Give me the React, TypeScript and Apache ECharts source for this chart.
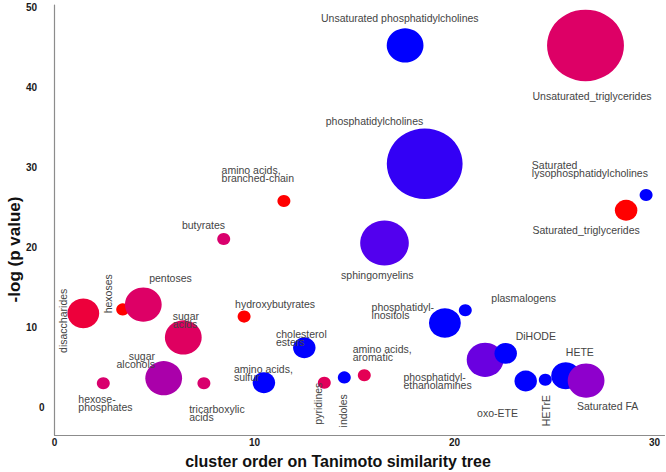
import React, { useEffect, useRef } from 'react';
import * as echarts from 'echarts';

// ---- data ----
const names = [
  'disaccharides', 'hexose-phosphates', 'hexoses', 'pentoses', 'sugar alcohols',
  'sugar acids', 'tricarboxylic acids', 'butyrates', 'hydroxybutyrates', 'amino acids, sulfur',
  'amino acids, branched-chain', 'cholesterol esters', 'pyridines', 'indoles', 'amino acids, aromatic',
  'sphingomyelins', 'Unsaturated phosphatidylcholines', 'phosphatidylcholines', 'phosphatidylinositols', 'plasmalogens',
  'phosphatidylethanolamines', 'DiHODE', 'oxo-ETE', 'HETrE', 'HETE',
  'Saturated FA', 'Unsaturated_triglycerides', 'Saturated_triglycerides', 'Saturated lysophosphatidylcholines',
];
const displayLabels = [
  'disaccharides', 'hexose-\nphosphates', 'hexoses', 'pentoses', 'sugar\nalcohols',
  'sugar\nacids', 'tricarboxylic\nacids', 'butyrates', 'hydroxybutyrates', 'amino acids,\nsulfur',
  'amino acids,\nbranched-chain', 'cholesterol\nesters', 'pyridines', 'indoles', 'amino acids,\naromatic',
  'sphingomyelins', 'Unsaturated phosphatidylcholines', 'phosphatidylcholines', 'phosphatidyl-\ninositols', 'plasmalogens',
  'phosphatidyl-\nethanolamines', 'DiHODE', 'oxo-ETE', 'HETrE', 'HETE',
  'Saturated FA', 'Unsaturated_triglycerides', 'Saturated_triglycerides', 'Saturated\nlysophosphatidylcholines',
];
const clusterOrder = [
  1.44, 2.44, 3.41, 4.44, 5.46,
  6.44, 7.47, 8.46, 9.48, 10.47,
  11.47, 12.49, 13.49, 14.49, 15.49,
  16.5, 17.53, 18.51, 19.52, 20.54,
  21.53, 22.56, 23.56, 24.54, 25.56,
  26.58, 26.55, 28.58, 29.58,
];
const negLogP = [
  11.7, 2.96, 12.2, 12.8, 3.6,
  8.7, 2.96, 21.0, 11.3, 3.04,
  25.75, 7.4, 3.04, 3.7, 3.96,
  20.5, 45.2, 30.4, 10.5, 12.1,
  5.9, 6.7, 3.25, 3.4, 3.9,
  3.3, 45.2, 24.6, 26.5,
];
const compoundCounts = [
  6, 1, 1, 8, 8,
  8, 1, 1, 1, 3,
  1, 3, 1, 1, 1,
  14, 8, 34, 6, 1,
  8, 3, 3, 1, 5,
  8, 35, 3, 1,
];
// share of compounds increased (0 = all decreased / blue, 1 = all increased / red)
const upShare = [
  0.92, 0.78, 1, 0.8, 0.6,
  0.82, 0.78, 0.78, 1, 0,
  1, 0, 0.84, 0, 0.86,
  0.3, 0, 0.2, 0, 0,
  0.4, 0, 0, 0, 0,
  0.5, 0.8, 1, 0,
];
const yTicks = [0, 10, 20, 30, 40, 50];
const xTicks = [0, 10, 20, 30];

// ---- label layout (offsets from bubble centre, px, in screen coordinates) ----
type LL = { dx: number; dy: number; align?: 'left' | 'center' | 'right'; rotate?: number };
const labelLayout: Record<string, LL> = {
  'disaccharides': { dx: -20.6, dy: 7.4, rotate: 90 },
  'hexose-phosphates': { dx: -25, dy: 19.7, align: 'left' },
  'hexoses': { dx: -14.4, dy: -15.6, rotate: 90 },
  'pentoses': { dx: 27.2, dy: -26.3 },
  'sugar alcohols': { dx: -8.7, dy: -18.3, align: 'right' },
  'sugar acids': { dx: -10.6, dy: -17.7, align: 'left' },
  'tricarboxylic acids': { dx: -14.7, dy: 29.7, align: 'left' },
  'butyrates': { dx: -20.2, dy: -14 },
  'hydroxybutyrates': { dx: 31, dy: -12.7 },
  'amino acids, sulfur': { dx: -30, dy: -9.7, align: 'left' },
  'amino acids, branched-chain': { dx: -62.3, dy: -27, align: 'left' },
  'cholesterol esters': { dx: -28.3, dy: -10.2, align: 'left' },
  'pyridines': { dx: -6, dy: 21, rotate: 90 },
  'indoles': { dx: -1, dy: 33.4, rotate: 90 },
  'amino acids, aromatic': { dx: -11.6, dy: -22.3, align: 'left' },
  'sphingomyelins': { dx: -7.2, dy: 32 },
  'Unsaturated phosphatidylcholines': { dx: -5.3, dy: -27.4 },
  'phosphatidylcholines': { dx: -50.2, dy: -43 },
  'phosphatidylinositols': { dx: -73.3, dy: -11.7, align: 'left' },
  'plasmalogens': { dx: 58.4, dy: -12.7 },
  'phosphatidylethanolamines': { dx: -81.7, dy: 21, align: 'left' },
  'DiHODE': { dx: 30.1, dy: -17.3 },
  'oxo-ETE': { dx: -28.2, dy: 31.7 },
  'HETrE': { dx: 0.7, dy: 30.8, rotate: 90 },
  'HETE': { dx: 14.1, dy: -24 },
  'Saturated FA': { dx: 21.5, dy: 25.7 },
  'Unsaturated_triglycerides': { dx: 6.5, dy: 50.2 },
  'Saturated_triglycerides': { dx: -40, dy: 20 },
  'Saturated lysophosphatidylcholines': { dx: -114.3, dy: -26, align: 'left' },
};

const FONT = '"Liberation Sans", Arial, Helvetica, sans-serif';

export default function App() {
  const ref = useRef<HTMLDivElement>(null);
  useEffect(() => {
    if (!ref.current) return;
    const chart = echarts.init(ref.current, null, { renderer: 'svg' });

    const data = names.map((n, i) => {
      const ll = labelLayout[n] || { dx: 0, dy: 0 };
      // the label offset is applied in the rotated frame: convert screen offset for 90° labels
      const offset = ll.rotate === 90 ? [-ll.dy, ll.dx] : [ll.dx, ll.dy];
      return {
        name: n,
        value: [clusterOrder[i], negLogP[i], compoundCounts[i], upShare[i]],
        label: {
          show: true,
          formatter: displayLabels[i],
          position: 'inside',
          offset,
          align: ll.align || 'center',
          verticalAlign: 'middle',
          rotate: ll.rotate || 0,
        },
      };
    });

    const option: any = {
      animation: false,
      grid: { left: 54.5, right: 1.5, top: 5, bottom: 37, containLabel: false },
      xAxis: {
        type: 'value',
        min: 0,
        max: 30.5,
        splitLine: { show: false },
        axisTick: { show: false },
        axisLine: { show: true, onZero: false, lineStyle: { color: '#8c8c8c', width: 1.2 } },
        axisLabel: {
          customValues: xTicks,
          fontFamily: FONT,
          fontWeight: 'bold',
          fontSize: 10,
          color: '#1a1a1a',
          margin: 2,
        },
      },
      yAxis: {
        type: 'value',
        min: -3.5,
        max: 50.25,
        splitLine: { show: false },
        axisTick: { show: false },
        axisLine: { show: true, onZero: false, lineStyle: { color: '#8c8c8c', width: 1.2 } },
        axisLabel: {
          customValues: yTicks,
          margin: 10,
          formatter: (v: number) => (v === 0 ? '{z|0}' : '{n|' + v + '}'),
          rich: {
            n: { fontFamily: FONT, fontWeight: 'bold', fontSize: 10, color: '#1a1a1a', padding: [0, 7.5, 0, 0] },
            z: { fontFamily: FONT, fontWeight: 'bold', fontSize: 10, color: '#1a1a1a' },
          },
        },
      },
      visualMap: {
        show: false,
        type: 'continuous',
        dimension: 3,
        min: 0,
        max: 1,
        inRange: {
          color: ['#0000ff', '#1a00fa', '#3300f5', '#5200ee', '#6a00e0', '#8e00cc', '#aa00aa', '#c8008a', '#dd0066', '#e8004a', '#ff0000'],
        },
      },
      graphic: [
        {
          type: 'text',
          x: 338,
          y: 461.7,
          style: {
            text: 'cluster order on Tanimoto similarity tree',
            font: 'bold 16px ' + FONT,
            fill: '#111',
            align: 'center',
            verticalAlign: 'middle',
            textAlign: 'center',
            textVerticalAlign: 'middle',
          },
        },
        {
          type: 'text',
          x: 14,
          y: 249.5,
          rotation: Math.PI / 2,
          style: {
            text: '-log (p value)',
            font: 'bold 17px ' + FONT,
            fill: '#111',
            align: 'center',
            verticalAlign: 'middle',
            textAlign: 'center',
            textVerticalAlign: 'middle',
          },
        },
      ],
      series: [
        {
          type: 'scatter',
          data,
          symbol: 'circle',
          symbolSize: (val: number[]) => {
            const d = 2 * 6.5 * Math.sqrt(val[2]);
            return [d, d * 0.93];
          },
          itemStyle: { opacity: 1 },
          label: {
            fontFamily: FONT,
            fontSize: 10.5,
            lineHeight: 8,
            color: '#444',
          },
          emphasis: { disabled: true },
          clip: false,
        },
      ],
    };
    chart.setOption(option);
    return () => chart.dispose();
  }, []);
  return (
    <div
      ref={ref}
      style={{ position: 'absolute', left: 0, top: 0, width: 666, height: 472, background: '#fff' }}
    />
  );
}
